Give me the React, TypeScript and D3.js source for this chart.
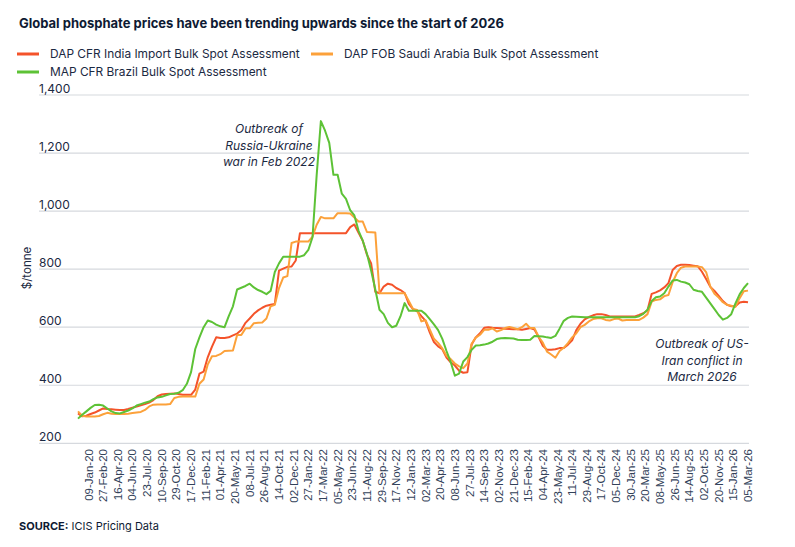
import { useEffect, useRef } from "react"
import * as d3 from "d3"

const WIDTH = 795
const HEIGHT = 547

// x-axis labels: one for every seventh weekly assessment
const tickLabels = [
  "09-Jan-20", "27-Feb-20", "16-Apr-20", "04-Jun-20", "23-Jul-20", "10-Sep-20", "29-Oct-20", "17-Dec-20",
  "11-Feb-21", "01-Apr-21", "20-May-21", "08-Jul-21", "26-Aug-21", "14-Oct-21", "02-Dec-21",
  "27-Jan-22", "17-Mar-22", "05-May-22", "23-Jun-22", "11-Aug-22", "29-Sep-22", "17-Nov-22",
  "12-Jan-23", "02-Mar-23", "20-Apr-23", "08-Jun-23", "27-Jul-23", "14-Sep-23", "02-Nov-23", "21-Dec-23",
  "15-Feb-24", "04-Apr-24", "23-May-24", "11-Jul-24", "29-Aug-24", "17-Oct-24", "05-Dec-24",
  "30-Jan-25", "20-Mar-25", "08-May-25", "26-Jun-25", "14-Aug-25", "02-Oct-25", "20-Nov-25",
  "15-Jan-26", "05-Mar-26",
]

// $/tonne at every second weekly assessment
const dapIndia = [
  303, 293, 295, 301, 306, 313, 320, 318, 317, 316,
  315, 315, 318, 323, 327, 331, 335, 340, 349, 362,
  368, 370, 371, 372, 370, 367, 367, 367, 385, 440,
  447, 497, 533, 565, 563, 563, 565, 572, 578, 590,
  615, 630, 646, 658, 667, 674, 677, 680, 795, 802,
  808, 809, 830, 924, 924, 924, 924, 924, 924, 924,
  924, 924, 924, 924, 924, 945, 954, 925, 898, 850,
  820, 722, 717, 740, 750, 746, 735, 728, 718, 680,
  662, 655, 638, 622, 582, 549, 534, 524, 495, 479,
  468, 450, 443, 445, 540, 565, 579, 598, 600, 598,
  597, 596, 595, 594, 593, 593, 591, 594, 597, 592,
  566, 536, 522, 522, 524, 528, 528, 540, 555, 590,
  612, 627, 635, 641, 645, 645, 642, 637, 637, 637,
  637, 637, 637, 637, 642, 648, 658, 715, 720, 727,
  737, 752, 797, 811, 815, 815, 814, 812, 810, 791,
  766, 739, 725, 708, 690, 677, 672, 672, 685, 688,
  686,
]

const dapSaudi = [
  310, 295, 292, 292, 292, 294, 300, 305, 302, 301,
  301, 301, 302, 304, 306, 308, 315, 327, 333, 334,
  334, 334, 335, 356, 360, 361, 361, 361, 361, 405,
  420, 472, 500, 501, 507, 518, 519, 520, 573, 573,
  596, 596, 614, 615, 616, 630, 672, 677, 735, 771,
  776, 890, 895, 895, 895, 895, 912, 953, 980, 975,
  975, 975, 993, 993, 993, 992, 978, 964, 964, 928,
  927, 926, 717, 717, 717, 717, 717, 717, 717, 690,
  663, 659, 620, 624, 592, 560, 546, 527, 502, 490,
  475, 465, 459, 475, 543, 564, 574, 591, 591, 596,
  585, 590, 597, 601, 597, 593, 600, 612, 597, 597,
  567, 547, 516, 506, 495, 518, 529, 545, 565, 579,
  600, 608, 620, 628, 631, 631, 625, 623, 628, 630,
  623, 625, 625, 625, 625, 633, 645, 688, 694, 696,
  707, 711, 755, 786, 805, 809, 809, 809, 809, 807,
  790, 740, 715, 702, 686, 677, 674, 670, 700, 724,
  726,
]

const mapBrazil = [
  285, 298, 310, 322, 332, 333, 330, 320, 310, 304,
  303, 308, 313, 320, 330, 335, 340, 344, 352, 358,
  360, 365, 370, 371, 374, 383, 405, 445, 525, 565,
  600, 623, 618, 609, 603, 600, 638, 672, 730, 736,
  742, 750, 737, 728, 722, 714, 725, 790, 820, 843,
  843, 843, 843, 843, 848, 866, 910, 1125, 1310, 1277,
  1235, 1125, 1125, 1060, 1042, 1003, 985, 932, 898, 853,
  795, 730, 660, 645, 615, 600, 605, 637, 683, 657,
  657, 657, 657, 645, 628, 610, 590, 560, 518, 480,
  433, 440, 482, 497, 522, 537, 538, 540, 544, 550,
  559, 562, 563, 562, 561, 557, 556, 556, 557, 570,
  569, 568, 565, 563, 570, 595, 622, 632, 637, 636,
  635, 634, 634, 634, 634, 634, 634, 634, 634, 634,
  634, 634, 634, 634, 638, 646, 660, 690, 703, 706,
  717, 740, 761, 763, 757, 754, 748, 729, 725, 722,
  702, 682, 662, 642, 626, 632, 645, 682, 713, 735,
  752,
]

const yTicks = [200, 400, 600, 800, 1000, 1200, 1400]

const SAMPLE_STEP = 2 // weeks between values
const FIRST_LABEL_WEEK = 5
const LABEL_EVERY = 7

const series = [
  { name: "DAP CFR India Import Bulk Spot Assessment", color: "#f4532a", values: dapIndia },
  { name: "DAP FOB Saudi Arabia Bulk Spot Assessment", color: "#fca13a", values: dapSaudi },
  { name: "MAP CFR Brazil Bulk Spot Assessment", color: "#5dc236", values: mapBrazil },
]

const INK = "#1b2942"
const FONT = "Inter, 'Open Sans', sans-serif"

export default function App() {
  const svgRef = useRef<SVGSVGElement>(null)

  useEffect(() => {
    if (!svgRef.current) return
    const svg = d3.select(svgRef.current)
    svg.selectAll("*").remove()

    const gridLeft = 39
    const gridRight = 749
    const plotTop = 95
    const plotBottom = 443.3

    const lastWeek = (dapIndia.length - 1) * SAMPLE_STEP
    const x = d3.scaleLinear().domain([0, lastWeek]).range([78, 748])
    const y = d3.scaleLinear().domain([200, 1400]).range([plotBottom, plotTop])

    // title
    svg.append("text")
      .attr("x", 19)
      .attr("y", 28)
      .attr("font-family", FONT)
      .attr("font-weight", 700)
      .attr("font-size", 13)
      .attr("fill", "#0e1a33")
      .text("Global phosphate prices have been trending upwards since the start of 2026")

    // legend
    const legendPos = [
      { x: 17, y: 54 },
      { x: 311, y: 54 },
      { x: 17, y: 72 },
    ]
    series.forEach((s, i) => {
      const p = legendPos[i]
      const g = svg.append("g").attr("transform", `translate(${p.x},${p.y})`)
      g.append("line")
        .attr("x1", 0).attr("x2", 22)
        .attr("stroke", s.color)
        .attr("stroke-width", 3)
      g.append("text")
        .attr("x", 33)
        .attr("y", 4)
        .attr("font-family", FONT)
        .attr("font-size", 11.9)
        .attr("fill", INK)
        .text(s.name)
    })

    // y grid + labels
    const grid = svg.append("g")
    grid.selectAll("line")
      .data(yTicks)
      .join("line")
      .attr("x1", gridLeft)
      .attr("x2", gridRight)
      .attr("y1", (d) => y(d))
      .attr("y2", (d) => y(d))
      .attr("stroke", "#d6d9de")
      .attr("stroke-width", 1.2)
    grid.selectAll("text")
      .data(yTicks)
      .join("text")
      .attr("x", gridLeft)
      .attr("y", (d) => y(d) - 2)
      .attr("font-family", FONT)
      .attr("font-size", 12)
      .attr("fill", INK)
      .text((d) => d3.format(",")(d))

    svg.append("text")
      .attr("transform", `translate(31,268) rotate(-90)`)
      .attr("text-anchor", "middle")
      .attr("font-family", FONT)
      .attr("font-size", 11.5)
      .attr("fill", INK)
      .text("$/tonne")

    // x labels
    svg.append("g")
      .selectAll("text")
      .data(tickLabels)
      .join("text")
      .attr("transform", (_, j) => `translate(${x(FIRST_LABEL_WEEK + j * LABEL_EVERY)},449) rotate(-90)`)
      .attr("text-anchor", "end")
      .attr("dy", "0.35em")
      .attr("font-family", "'Liberation Sans', Arial, sans-serif")
      .attr("font-size", 11.5)
      .attr("fill", "#33425a")
      .text((d) => d)

    // lines
    const line = d3.line<number>()
      .x((_, i) => x(i * SAMPLE_STEP))
      .y((d) => y(d))

    svg.append("g")
      .selectAll("path")
      .data(series)
      .join("path")
      .attr("fill", "none")
      .attr("stroke", (d) => d.color)
      .attr("stroke-width", 2)
      .attr("stroke-linejoin", "round")
      .attr("d", (d) => line(d.values))

    // annotations
    const notes = [
      { x: 269, y: 133, lines: ["Outbreak of", "Russia-Ukraine", "war in Feb 2022"] },
      { x: 702, y: 348, lines: ["Outbreak of US-", "Iran conflict in", "March 2026"] },
    ]
    notes.forEach((n) => {
      const t = svg.append("text")
        .attr("text-anchor", "middle")
        .attr("font-family", FONT)
        .attr("font-style", "italic")
        .attr("font-size", 12)
        .attr("fill", INK)
      n.lines.forEach((l, i) => {
        t.append("tspan").attr("x", n.x).attr("y", n.y + i * 16.5).text(l)
      })
    })

    // source
    const src = svg.append("text")
      .attr("x", 19)
      .attr("y", 530)
      .attr("font-family", FONT)
      .attr("font-size", 11)
      .attr("fill", "#0e1a33")
    src.append("tspan").attr("font-weight", 700).text("SOURCE:")
    src.append("tspan").text(" ICIS Pricing Data")
  }, [])

  return (
    <svg
      ref={svgRef}
      width={WIDTH}
      height={HEIGHT}
      viewBox={`0 0 ${WIDTH} ${HEIGHT}`}
      style={{ position: "absolute", left: 0, top: 0, background: "#fff" }}
    />
  )
}
